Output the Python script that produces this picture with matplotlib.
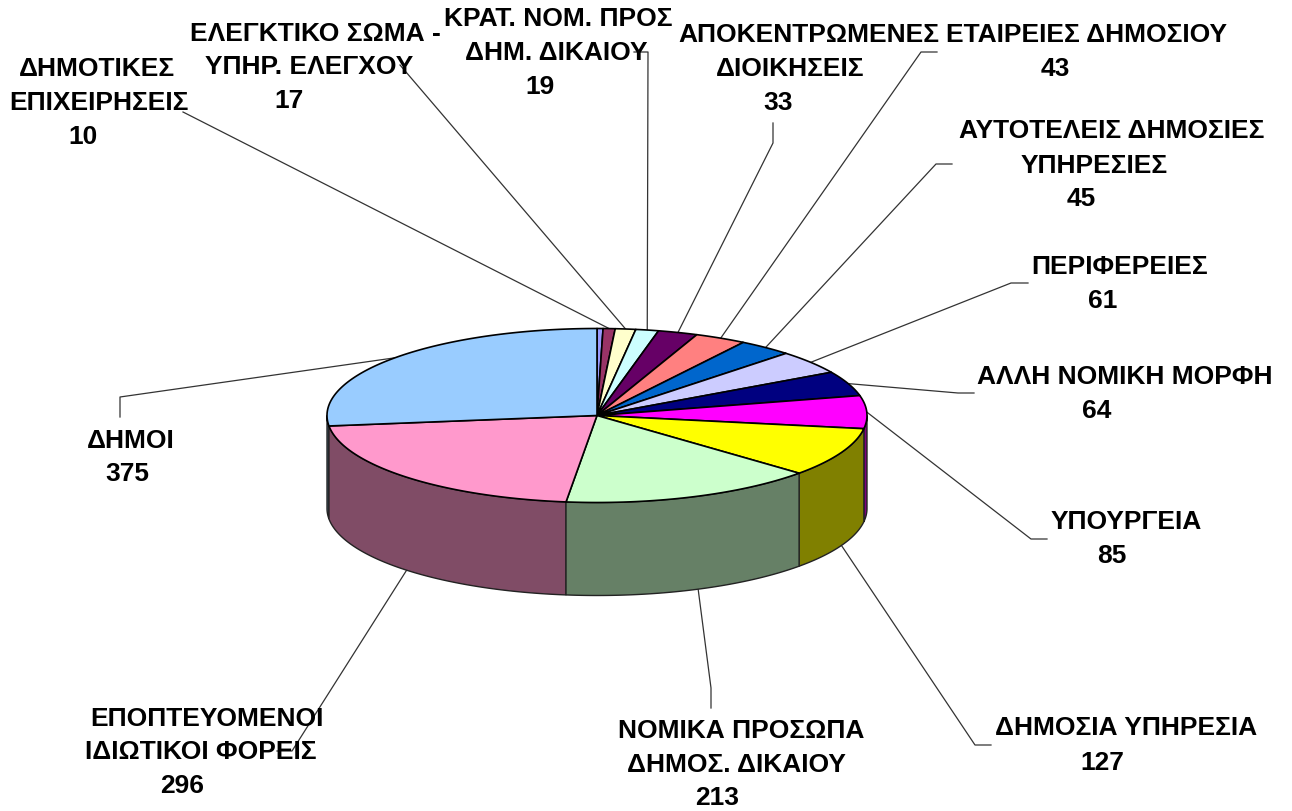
import numpy as np
import matplotlib
matplotlib.use("Agg")
import matplotlib.pyplot as plt
from matplotlib.patches import Polygon

plt.rcParams['font.family'] = ['Liberation Sans', 'DejaVu Sans']

# clockwise from 12 o'clock; the first slice carries no label in the reference
categories = ["", "ΔΗΜΟΤΙΚΕΣ ΕΠΙΧΕΙΡΗΣΕΙΣ", "ΕΛΕΓΚΤΙΚΟ ΣΩΜΑ - ΥΠΗΡ. ΕΛΕΓΧΟΥ",
              "ΚΡΑΤ. ΝΟΜ. ΠΡΟΣ ΔΗΜ. ΔΙΚΑΙΟΥ", "ΑΠΟΚΕΝΤΡΩΜΕΝΕΣ ΔΙΟΙΚΗΣΕΙΣ",
              "ΕΤΑΙΡΕΙΕΣ ΔΗΜΟΣΙΟΥ", "ΑΥΤΟΤΕΛΕΙΣ ΔΗΜΟΣΙΕΣ ΥΠΗΡΕΣΙΕΣ", "ΠΕΡΙΦΕΡΕΙΕΣ",
              "ΑΛΛΗ ΝΟΜΙΚΗ ΜΟΡΦΗ", "ΥΠΟΥΡΓΕΙΑ", "ΔΗΜΟΣΙΑ ΥΠΗΡΕΣΙΑ",
              "ΝΟΜΙΚΑ ΠΡΟΣΩΠΑ ΔΗΜΟΣ. ΔΙΚΑΙΟΥ", "ΕΠΟΠΤΕΥΟΜΕΝΟΙ ΙΔΙΩΤΙΚΟΙ ΦΟΡΕΙΣ", "ΔΗΜΟΙ"]
values = [5, 10, 17, 19, 33, 43, 45, 61, 64, 85, 127, 213, 296, 375]
top_colors = ["#9999FF", "#993366", "#FFFFCC", "#CCFFFF", "#660066", "#FF8080", "#0066CC",
              "#CCCCFF", "#000080", "#FF00FF", "#FFFF00", "#CCFFCC", "#FF99CC", "#99CCFF"]
side_colors = ["#4C4C80", "#4C1A33", "#808066", "#668080", "#330033", "#804040", "#003366",
               "#666680", "#000040", "#800080", "#808000", "#668066", "#804C66", "#4C6680"]

# layout, in pixels
CX, CY, RX, RY, DEPTH = 597, 415.5, 270, 87, 93
CAP_HALF = 8

# text line, centre x, centre y of the capitals
label_lines = [
    ("ΔΗΜΟΤΙΚΕΣ", 97, 68), ("ΕΠΙΧΕΙΡΗΣΕΙΣ", 99, 102), ("10", 83, 136),
    ("ΕΛΕΓΚΤΙΚΟ ΣΩΜΑ -", 315, 33), ("ΥΠΗΡ. ΕΛΕΓΧΟΥ", 309, 66), ("17", 289, 100),
    ("ΚΡΑΤ. ΝΟΜ. ΠΡΟΣ", 558, 18), ("ΔΗΜ. ΔΙΚΑΙΟΥ", 556, 52), ("19", 540, 86),
    ("ΑΠΟΚΕΝΤΡΩΜΕΝΕΣ", 809, 34), ("ΔΙΟΙΚΗΣΕΙΣ", 790, 68), ("33", 778, 102),
    ("ΕΤΑΙΡΕΙΕΣ ΔΗΜΟΣΙΟΥ", 1086, 34), ("43", 1055, 68),
    ("ΑΥΤΟΤΕΛΕΙΣ ΔΗΜΟΣΙΕΣ", 1112, 130), ("ΥΠΗΡΕΣΙΕΣ", 1094, 165), ("45", 1081, 198),
    ("ΠΕΡΙΦΕΡΕΙΕΣ", 1120, 266), ("61", 1103, 300),
    ("ΑΛΛΗ ΝΟΜΙΚΗ ΜΟΡΦΗ", 1125, 376), ("64", 1097, 410),
    ("ΥΠΟΥΡΓΕΙΑ", 1126, 521), ("85", 1112, 555),
    ("ΔΗΜΟΣΙΑ ΥΠΗΡΕΣΙΑ", 1126, 727), ("127", 1102, 762),
    ("ΝΟΜΙΚΑ ΠΡΟΣΩΠΑ", 741, 730), ("ΔΗΜΟΣ. ΔΙΚΑΙΟΥ", 736, 764), ("213", 717, 797),
    ("ΕΠΟΠΤΕΥΟΜΕΝΟΙ", 207, 718), ("ΙΔΙΩΤΙΚΟΙ ΦΟΡΕΙΣ", 201, 751), ("296", 182, 785),
    ("ΔΗΜΟΙ", 131, 440), ("375", 127, 473),
]

# leader path from the label side to the slice (slice end computed from the value)
leader_paths = {
    1: [(183, 112)],
    2: [(400, 65)],
    3: [(634, 52), (648, 52)],
    4: [(773, 123), (773, 143)],
    5: [(937, 52), (921, 52)],
    6: [(952, 164), (936, 164)],
    7: [(1028, 283), (1011, 283)],
    8: [(974, 393), (958, 393)],
    9: [(1047, 539), (1031, 539)],
    10: [(991, 745), (975, 745)],
    11: [(711, 708), (711, 688)],
    12: [(277, 751), (292, 751)],
    13: [(120, 417), (120, 397)],
}
leader_ends = {11: (698, 588)}

fig = plt.figure(figsize=(12.92, 8.11), dpi=100)
ax = fig.add_axes([0, 0, 1, 1])
ax.set_xlim(0, 1292)
ax.set_ylim(811, 0)
ax.axis("off")

fractions = np.array(values) / sum(values) * 2 * np.pi
edges = np.concatenate([[0], np.cumsum(fractions)])


def rim(theta, drop=0.0):
    theta = np.asarray(theta)
    return CX + RX * np.sin(theta), CY - RY * np.cos(theta) + drop


# back-to-front sides: only the front half (pi/2..3pi/2) is visible
order = sorted(range(len(values)), key=lambda i: -abs(((edges[i] + edges[i + 1]) / 2) - np.pi))
for i in order:
    a = max(edges[i], np.pi / 2)
    b = min(edges[i + 1], 3 * np.pi / 2)
    if b <= a:
        continue
    t = np.linspace(a, b, 120)
    x, y = rim(t)
    pts = np.column_stack([np.r_[x, x[::-1]], np.r_[y, (y + DEPTH)[::-1]]])
    ax.add_patch(Polygon(pts, closed=True, facecolor=side_colors[i], edgecolor="#222222",
                         linewidth=1.0, zorder=2))

for i in range(len(values)):
    t = np.linspace(edges[i], edges[i + 1], 120)
    x, y = rim(t)
    pts = np.column_stack([np.r_[CX, x], np.r_[CY, y]])
    ax.add_patch(Polygon(pts, closed=True, facecolor=top_colors[i], edgecolor="black",
                         linewidth=1.2, joinstyle="round", zorder=3))

for i, path in leader_paths.items():
    mid = (edges[i] + edges[i + 1]) / 2
    drop = DEPTH if np.pi / 2 + 0.15 < mid < 3 * np.pi / 2 - 0.15 else 0
    ex, ey = leader_ends.get(i, rim(mid, drop))
    xs = [p[0] for p in path] + [float(ex)]
    ys = [p[1] for p in path] + [float(ey)]
    ax.plot(xs, ys, color="#333333", linewidth=0.9, zorder=1)

for text, x, y in label_lines:
    ax.text(x, y + CAP_HALF, text, ha="center", va="baseline", fontsize=19, fontweight="bold",
            color="black", zorder=5)

fig.savefig("out.png", dpi=100, facecolor="white")
